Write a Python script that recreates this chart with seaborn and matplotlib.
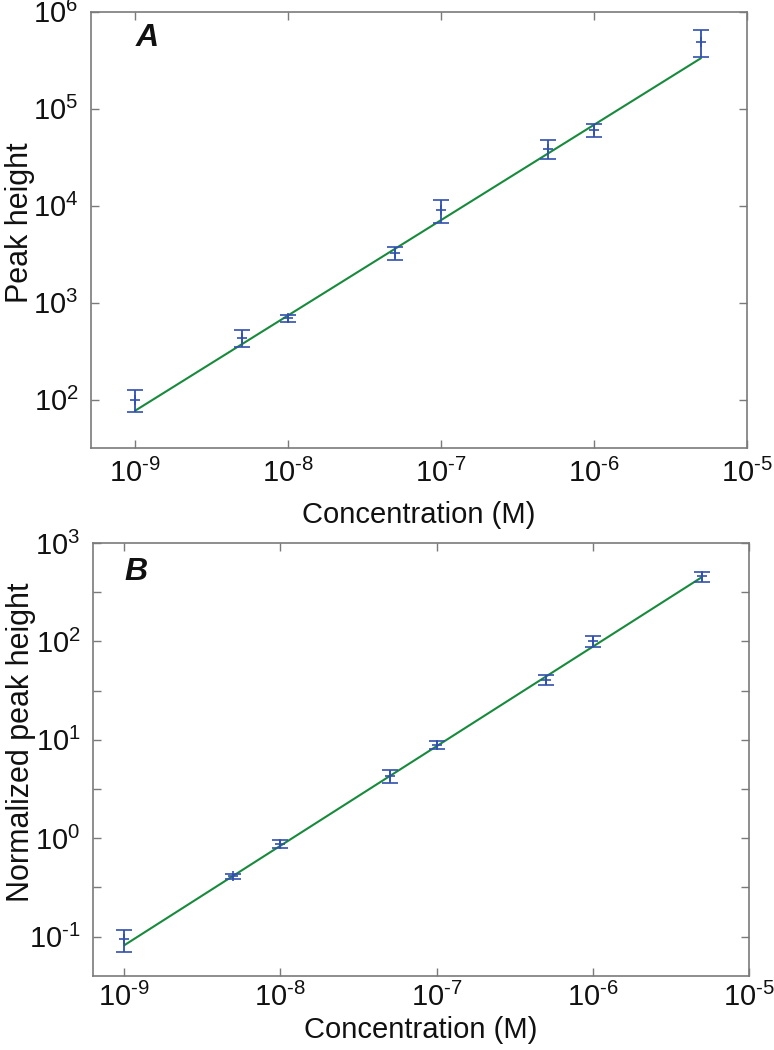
import numpy as np
import pandas as pd
import seaborn as sns
import matplotlib
matplotlib.use("Agg")
import matplotlib.pyplot as plt
from matplotlib.ticker import FixedLocator, FuncFormatter, NullLocator
from matplotlib import font_manager

# ---------------- data ----------------
concentration = [1e-9, 5e-9, 1e-8, 5e-8, 1e-7, 5e-7, 1e-6, 5e-6]
peak_height = [100, 435, 689, 3240, 9040, 38700, 60700, 492000]
peak_height_err = [26, 90, 60, 500, 2450, 8500, 9400, 150000]
norm_peak_height = [0.094, 0.409, 0.87, 4.33, 8.9, 40.6, 101, 457]
norm_peak_height_err = [0.024, 0.027, 0.08, 0.65, 0.75, 4.5, 13, 55]
fit_x = [1e-9, 5e-6]
fit_A = [77, 3.32e5]
fit_B = [0.0817, 450]

x_ticks = [1e-9, 1e-8, 1e-7, 1e-6, 1e-5]
yA_ticks = [1e2, 1e3, 1e4, 1e5, 1e6]
yB_ticks = [10 ** e for e in np.arange(-1.0, 3.01, 0.5)]

# ---------------- style ----------------
sns.set_theme(style="white")
plt.rcParams['font.family'] = ['Liberation Sans', 'DejaVu Sans']
plt.rcParams['mathtext.fontset'] = 'custom'
plt.rcParams['mathtext.rm'] = 'Liberation Sans'
plt.rcParams['mathtext.it'] = 'Liberation Sans:italic'
plt.rcParams['mathtext.bf'] = 'Liberation Sans:bold'

names = {f.name for f in font_manager.fontManager.ttflist}
tick_family = 'Liberation Sans Narrow' if 'Liberation Sans Narrow' in names else 'Liberation Sans'

BLUE = '#3150AE'
GREEN = '#178A3C'
SPINE = '#7a7a7a'

fig = plt.figure(figsize=(7.74, 10.5), dpi=100)
axA = fig.add_axes([0.1176, 0.5733, 0.8475, 0.4155])
axB = fig.add_axes([0.1202, 0.0705, 0.8475, 0.4124])


def fmt(v, pos):
    e = np.log10(v)
    if abs(e - round(e)) > 1e-6:
        return ''
    e = int(round(e))
    if e < 0:
        return r'$\mathdefault{10^{\text{-}%d}}$' % (-e)
    return r'$\mathdefault{10^{%d}}$' % e


def draw(ax, y, yerr, fit, xlim, ylim, yticks, ylabel, letter, letter_pos,
         xpad, xlabelpad, ylab_xy):
    df = pd.DataFrame({'x': fit_x, 'y': fit})
    sns.lineplot(data=df, x='x', y='y', ax=ax, color=GREEN, lw=1.5)
    ax.errorbar(concentration, y, yerr=yerr, fmt='+', color=BLUE, ecolor=BLUE,
                elinewidth=1.3, capsize=5.5, capthick=1.3, markersize=7, mew=1.2)
    ax.set_xscale('log')
    ax.set_yscale('log')
    ax.set_xlim(*xlim)
    ax.set_ylim(*ylim)
    ax.xaxis.set_major_locator(FixedLocator(x_ticks))
    ax.xaxis.set_minor_locator(NullLocator())
    ax.yaxis.set_major_locator(FixedLocator(yticks))
    ax.yaxis.set_minor_locator(NullLocator())
    ax.xaxis.set_major_formatter(FuncFormatter(fmt))
    ax.yaxis.set_major_formatter(FuncFormatter(fmt))
    for s in ax.spines.values():
        s.set_visible(True)
        s.set_color(SPINE)
        s.set_linewidth(1.2)
    ax.tick_params(which='major', direction='in', length=6, width=1.0, color=SPINE,
                   top=True, right=True, bottom=True, left=True,
                   labelsize=21, labelcolor='#111111', labelfontfamily=tick_family)
    ax.tick_params(axis='x', pad=xpad)
    ax.tick_params(axis='y', pad=9)
    ax.set_xlabel('Concentration (M)', fontsize=21, color='#111111', labelpad=xlabelpad)
    ax.set_ylabel(ylabel, fontsize=22, color='#111111')
    ax.yaxis.set_label_coords(*ylab_xy)
    ax.text(letter_pos[0], letter_pos[1], letter, transform=ax.transAxes,
            fontsize=23, fontweight='bold', fontstyle='italic', color='#111111',
            va='top', ha='left')
    ax.set_facecolor('white')


draw(axA, peak_height, peak_height_err, fit_A, (10 ** -9.29, 1e-5), (10 ** 1.5, 1e6),
     yA_ticks, 'Peak height', 'A', (0.068, 0.975), 8, 9, (-0.085, 0.517))
draw(axB, norm_peak_height, norm_peak_height_err, fit_B, (10 ** -9.2, 1e-5), (10 ** -1.4, 1e3),
     yB_ticks, 'Normalized peak height', 'B', (0.048, 0.968), 5, 3, (-0.087, 0.54))

fig.savefig('out.png', dpi=100, facecolor='white')
